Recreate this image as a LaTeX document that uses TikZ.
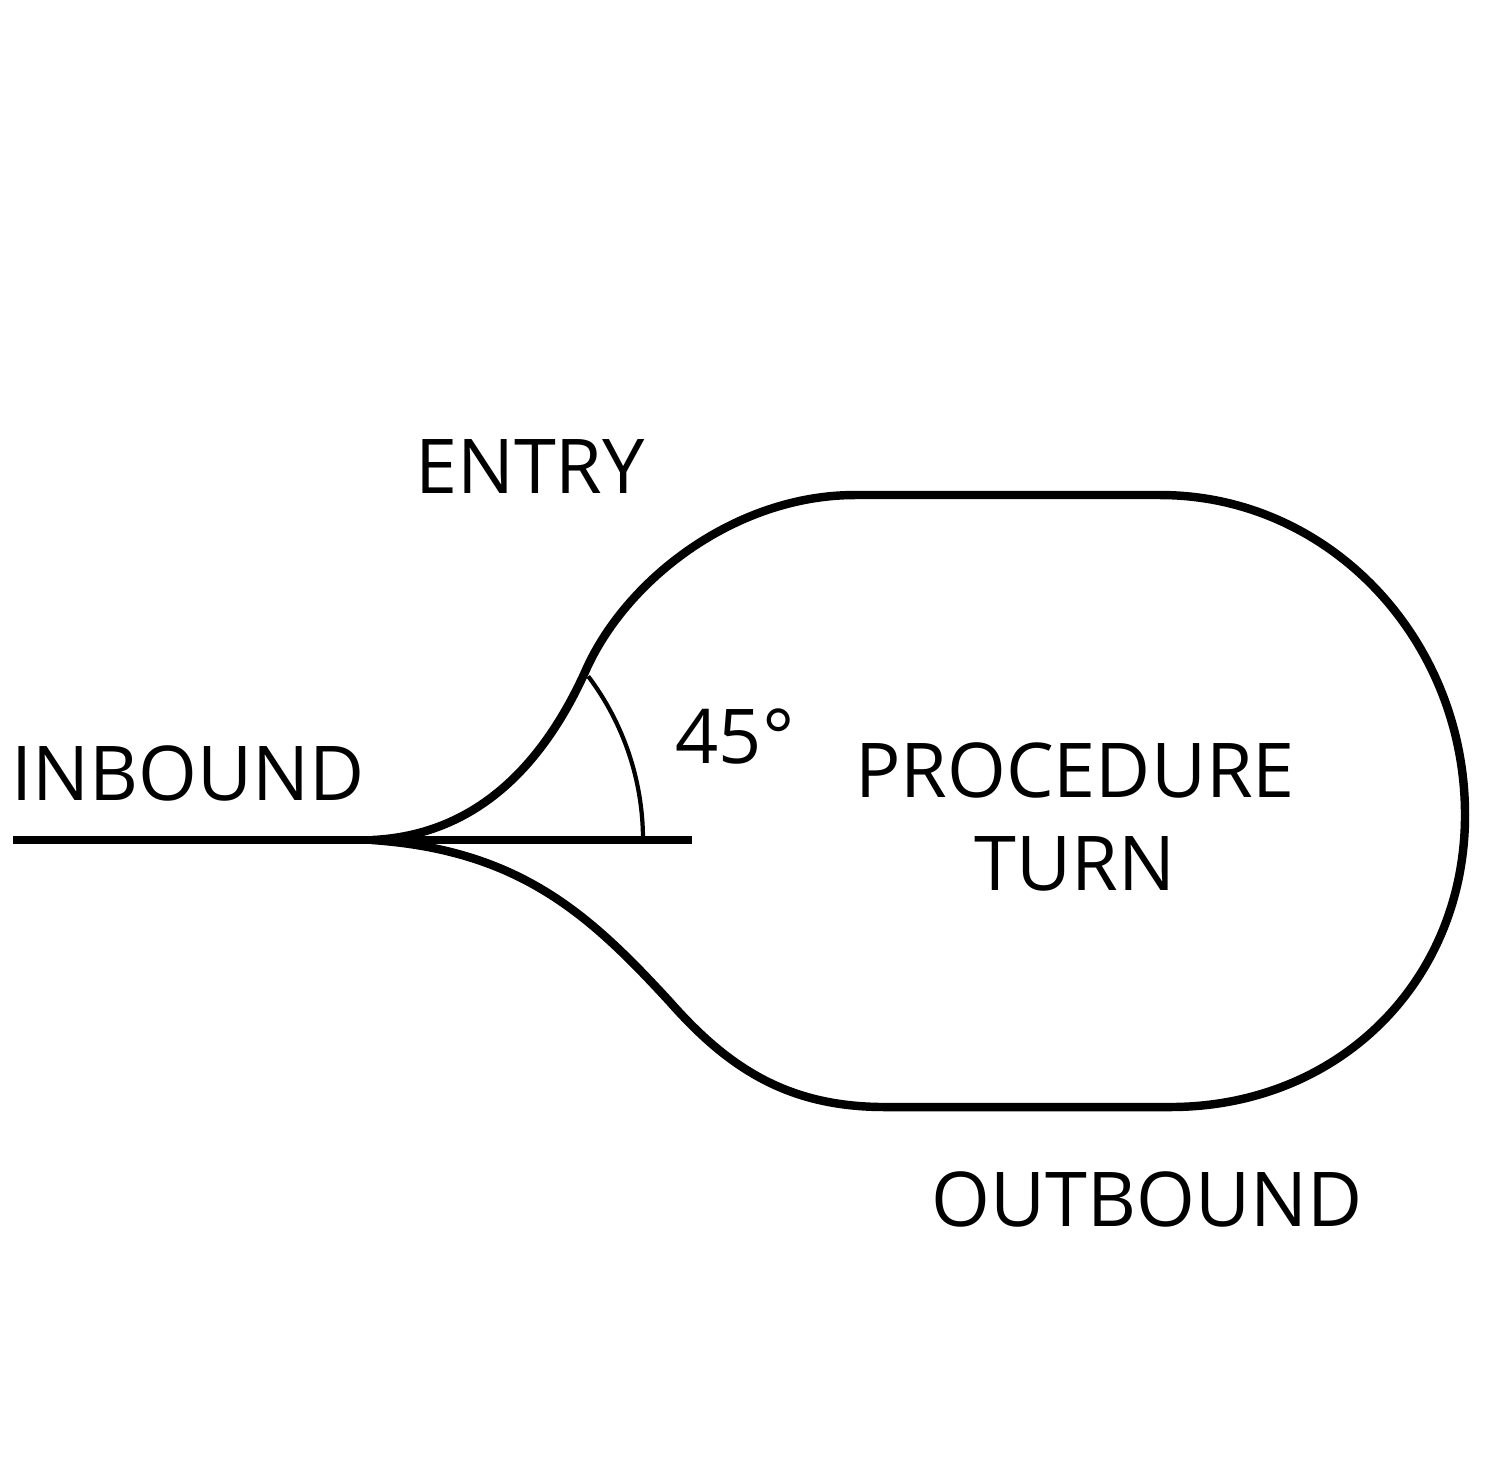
\documentclass[tikz,border=0pt]{standalone}
\usepackage{fontspec}
\setmainfont{Open Sans}
\begin{document}
\begin{tikzpicture}[x=0.01cm,y=-0.01cm,
  track/.style={line width=2.4pt,line join=round},
  anglearc/.style={line width=1.2pt},
  lbl/.style={font=\fontsize{21.5}{26}\selectfont,anchor=base,inner sep=0pt}]
\useasboundingbox (0,0) rectangle (1510,1462);
\coordinate (inL) at (13,840);
\coordinate (inR) at (692,840);
\coordinate (join) at (372,840);
\coordinate (ent) at (585,672);
\coordinate (topL) at (855,495);
\coordinate (topR) at (1160,495);
\coordinate (rgt) at (1465,815);
\coordinate (botR) at (1170,1107);
\coordinate (botL) at (885,1107);
\coordinate (infl) at (670,1002);
\draw[track] (inL) -- (inR);
\draw[track] (join) .. controls (480,835) and (545,760) .. (ent)
  .. controls (625,580) and (735,495) .. (topL) -- (topR)
  .. controls (1330,495) and (1465,640) .. (rgt)
  .. controls (1465,980) and (1340,1107) .. (botR) -- (botL)
  .. controls (790,1107) and (730,1070) .. (infl)
  .. controls (590,915) and (520,850) .. (join);
\draw[anglearc] (643,840) arc[start angle=0,end angle=-37,radius=272];
\node[lbl] (entry) at (530,493) {ENTRY};
\node[lbl] (inbound) at (188,800) {INBOUND};
\node[lbl] (angle) at (735,763) {45°};
\node[lbl] (proc) at (1075,797) {PROCEDURE};
\node[lbl] (turn) at (1075,890) {TURN};
\node[lbl] (outbound) at (1147,1226) {OUTBOUND};
\end{tikzpicture}
\end{document}
